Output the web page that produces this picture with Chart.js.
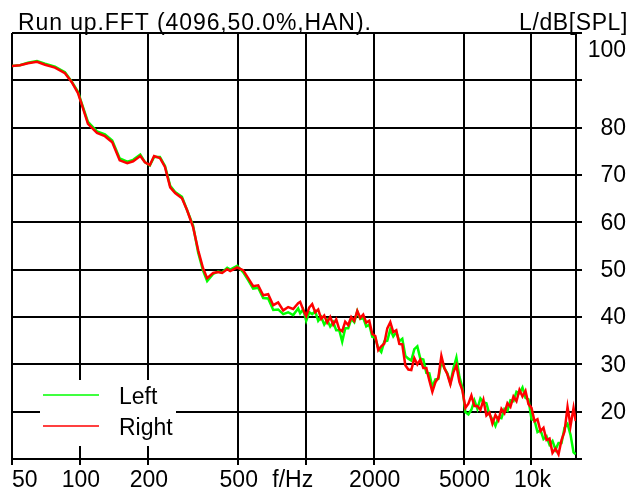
<!DOCTYPE html>
<html>
<head>
<meta charset="utf-8">
<script src="https://cdn.jsdelivr.net/npm/chart.js@4/dist/chart.umd.min.js"></script>
<style>
  html, body { margin: 0; padding: 0; background: #fff; }
  #wrap { width: 639px; height: 494px; }
</style>
</head>
<body>
<div id="wrap"><canvas id="fftChart" width="639" height="494"></canvas></div>
<script>
// === Data ===
const titleLeft = "Run up.FFT (4096,50.0%,HAN).";
const titleRight = "L/dB[SPL]";
const xUnit = "f/Hz";

const freqTicks = [50, 100, 200, 500, 1000, 2000, 5000, 10000];
const freqTickLabels = ["50", "100", "200", "500", "", "2000", "5000", "10k"];
const dbTicks = [100, 90, 80, 70, 60, 50, 40, 30, 20, 10];
const dbTickLabels = ["100", "", "80", "70", "60", "50", "40", "30", "20", ""];

const freqs = [
  50, 54.2, 58.8, 64.5, 70, 77.5, 85.8, 92, 98, 102, 108.5, 119, 129, 139, 150, 162, 172, 185, 194, 204,
  213, 226, 238, 251, 264, 283, 298, 317, 334, 351, 366, 389, 409, 426, 449, 463, 497, 528, 556, 585,
  616, 648, 682, 718, 755, 795, 836, 880, 926,
  945, 974, 1005, 1036, 1068, 1102, 1136, 1171, 1208, 1245, 1284, 1324, 1365, 1408, 1451, 1496, 1543, 1591, 1641, 1692,
  1744, 1798, 1854, 1912, 1972, 2033, 2096, 2161, 2229, 2298, 2370, 2443, 2519, 2598, 2678, 2762, 2848, 2936, 3028, 3122,
  3219, 3319, 3423, 3529, 3639, 3752, 3869, 3989, 4113, 4241, 4373, 4509, 4650, 4794, 4943, 5097, 5256, 5419, 5588, 5762,
  5941, 6126, 6317, 6513, 6716, 6925, 7140, 7362, 7591, 7828, 8071, 8322, 8581, 8848, 9124, 9407, 9700, 10002, 10313, 10634,
  10965, 11306, 11658, 12021, 12395, 12780, 13178, 13588, 14011, 14447, 14896, 15360, 15700
];

const rightDb = [
  93.0, 93.2, 93.6, 93.9, 93.3, 92.7, 91.5, 89.6, 87.3, 84.8, 80.8, 78.9, 78.2, 76.9, 73.1, 72.5, 72.9, 74.0, 72.7, 72.1,
  74.0, 73.6, 71.7, 67.4, 66.2, 65.1, 62.6, 59.0, 54.1, 50.3, 48.2, 49.3, 49.5, 49.3, 50.1, 49.7, 50.5, 49.9, 48.2, 46.5,
  46.7, 44.6, 44.8, 42.5, 43.1, 41.4, 42.1, 41.7, 42.9,
  43.2, 41.6, 40.2, 42.0, 42.7, 41.0, 41.6, 39.6, 40.3, 38.8, 40.0, 38.4, 39.5, 37.4, 37.0, 39.0, 38.3, 40.0, 39.2, 41.3,
  39.8, 40.5, 38.8, 39.2, 36.4, 36.0, 33.0, 33.8, 34.4, 37.6, 38.9, 36.8, 37.2, 34.3, 34.2, 29.8, 28.9, 28.8, 31.3, 30.0,
  31.0, 29.2, 29.2, 26.6, 24.2, 26.2, 27.2, 31.8, 29.2, 27.9, 25.8, 28.3, 29.8, 26.3, 24.5, 20.8, 21.7, 23.4, 21.2, 21.2,
  20.4, 22.5, 19.2, 19.8, 17.5, 19.3, 18.2, 20.6, 19.7, 21.8, 21.0, 23.2, 22.2, 24.6, 23.2, 24.4, 21.6, 20.8, 18.0, 18.4,
  15.9, 16.6, 14.0, 14.3, 11.3, 12.2, 11.0, 14.0, 15.8, 21.0, 17.0, 20.8, 18.0
];

const leftDb = [
  93.0, 93.2, 93.7, 94.1, 93.5, 92.9, 91.7, 89.7, 87.6, 85.0, 81.2, 79.2, 78.6, 77.3, 73.5, 72.8, 73.2, 74.3, 72.7, 72.0,
  73.8, 73.8, 71.9, 67.7, 66.4, 65.4, 62.6, 59.3, 53.6, 49.8, 47.6, 49.1, 49.6, 49.4, 50.4, 50.0, 50.8, 49.5, 47.8, 46.0,
  46.2, 44.0, 43.9, 41.5, 41.6, 40.6, 41.0, 40.4, 41.8,
  40.8, 41.6, 39.2, 41.0, 40.6, 41.2, 39.2, 40.0, 38.4, 39.4, 38.0, 38.9, 37.2, 37.2, 34.8, 37.6, 37.6, 39.6, 38.9, 41.2,
  39.6, 39.8, 38.0, 38.4, 35.8, 35.6, 33.4, 32.6, 34.8, 35.0, 37.4, 35.9, 36.8, 34.9, 35.4, 31.8, 31.2, 30.8, 33.2, 33.8,
  31.2, 31.0, 28.2, 28.1, 25.2, 26.8, 26.9, 30.6, 29.2, 28.1, 26.0, 29.1, 31.4, 27.4, 25.1, 19.9, 19.4, 20.4, 22.4, 20.6,
  22.8, 22.0, 21.8, 19.4, 18.4, 17.0, 18.8, 18.6, 20.6, 20.2, 22.4, 22.2, 24.2, 23.9, 25.1, 22.9, 22.6, 18.4, 18.2, 15.7,
  16.1, 14.2, 14.8, 13.0, 13.8, 12.0, 13.4, 13.4, 16.6, 17.4, 15.1, 11.4, 11.0
];

const FONT = "23px 'Liberation Sans', Arial, sans-serif";

// === Custom drawing: titles, tick labels, legend box ===
const decorPlugin = {
  id: "decor",
  afterDraw(chart) {
    const ctx = chart.ctx;
    const area = chart.chartArea;
    const xs = chart.scales.x;
    const ys = chart.scales.y;
    ctx.save();
    ctx.fillStyle = "#000";
    ctx.font = FONT;

    // header texts (the original renderer spaces letters a bit wider)
    ctx.textBaseline = "alphabetic";
    ctx.textAlign = "left";
    ctx.letterSpacing = "0.9px";
    ctx.fillText(titleLeft, 18, 30);
    ctx.textAlign = "right";
    ctx.letterSpacing = "0.6px";
    ctx.fillText(titleRight, 628, 30);
    ctx.letterSpacing = "0px";

    // y labels (right side)
    ctx.textBaseline = "middle";
    ctx.textAlign = "right";
    dbTicks.forEach((v, i) => {
      if (!dbTickLabels[i]) return;
      let y = ys.getPixelForValue(v);
      if (v === 100) y += 17;
      ctx.fillText(dbTickLabels[i], 626, y + 1);
    });

    // x labels
    freqTicks.forEach((v, i) => {
      if (!freqTickLabels[i]) return;
      const x = xs.getPixelForValue(v);
      ctx.textAlign = i === 0 ? "left" : "center";
      ctx.fillText(freqTickLabels[i], x + (i === 0 ? 0 : 1), 481);
    });
    ctx.textAlign = "center";
    ctx.fillText(xUnit, xs.getPixelForValue(1000) - 13, 481);

    // legend box
    const lx = area.left + 28, ly = area.bottom - 79;
    ctx.fillStyle = "#fff";
    ctx.fillRect(lx, ly, 136, 66);
    const items = [chart.data.datasets[1], chart.data.datasets[0]];
    items.forEach((ds, i) => {
      const yy = ly + 15 + i * 31;
      ctx.strokeStyle = ds.borderColor;
      ctx.lineWidth = 1.5;
      ctx.beginPath();
      ctx.moveTo(lx + 3, yy);
      ctx.lineTo(lx + 59, yy);
      ctx.stroke();
      ctx.fillStyle = "#000";
      ctx.textAlign = "left";
      ctx.fillText(ds.label, lx + 79, yy + 3);
    });
    ctx.restore();
  }
};

const gridOpts = { color: "#000", lineWidth: 2, drawTicks: true, tickLength: 6, tickColor: "#000" };

new Chart(document.getElementById("fftChart"), {
  type: "line",
  data: {
    datasets: [
      { label: "Right", data: freqs.map((f, i) => ({ x: f, y: rightDb[i] })),
        borderColor: "#ff0000", borderWidth: 2.5, pointRadius: 0, tension: 0, order: 0 },
      { label: "Left", data: freqs.map((f, i) => ({ x: f, y: leftDb[i] })),
        borderColor: "#00ff00", borderWidth: 2.5, pointRadius: 0, tension: 0, order: 1 }
    ]
  },
  options: {
    responsive: false,
    animation: false,
    devicePixelRatio: 1,
    layout: { padding: { left: 12, top: 33, right: 57, bottom: 29 } },
    plugins: { legend: { display: false }, tooltip: { enabled: false } },
    scales: {
      x: {
        type: "logarithmic", min: 50, max: 15750,
        afterBuildTicks: (s) => { s.ticks = freqTicks.map(v => ({ value: v })); },
        ticks: { display: false },
        grid: gridOpts,
        border: { display: true, color: "#000", width: 2 }
      },
      y: {
        position: "right", min: 10, max: 100,
        afterBuildTicks: (s) => { s.ticks = dbTicks.map(v => ({ value: v })); },
        ticks: { display: false },
        grid: gridOpts,
        border: { display: true, color: "#000", width: 2 }
      }
    }
  },
  plugins: [decorPlugin]
});
</script>
</body>
</html>
